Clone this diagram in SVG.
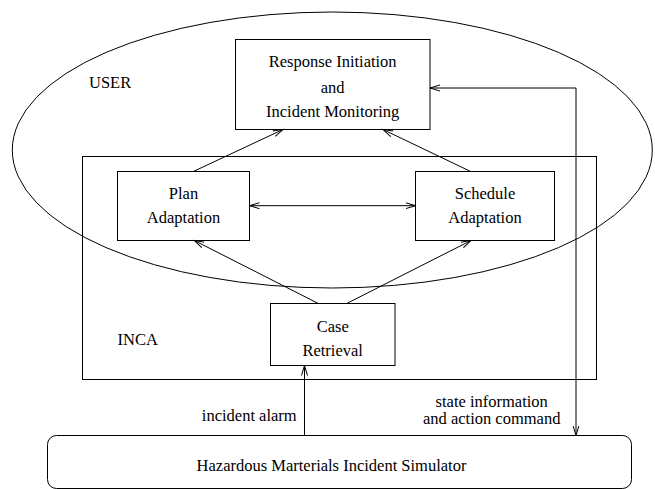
<svg xmlns="http://www.w3.org/2000/svg" width="655" height="489" viewBox="0 0 655 489">
<style>
.box{fill:none;stroke:#000;stroke-width:1}
text{font-family:'Liberation Serif','Times New Roman',Times,serif;font-size:16.5px;fill:#000}
.c{text-anchor:middle}
.ln{fill:none;stroke:#000;stroke-width:1}
</style>
<defs>
<marker id="ah" markerUnits="userSpaceOnUse" markerWidth="12" markerHeight="8" refX="10" refY="3" orient="auto-start-reverse" viewBox="0 0 12 6">
<path d="M0,0 L10,3 L0,6" fill="none" stroke="#000" stroke-width="1"/>
</marker>
</defs>
<rect width="655" height="489" fill="#fff"/>
<g id="user">
<ellipse cx="332.3" cy="150" rx="320" ry="138" class="box"/>
<text x="89" y="88">USER</text>
</g>
<g id="inca">
<rect x="82.5" y="156.5" width="514" height="223" class="box"/>
<text x="117.5" y="345">INCA</text>
</g>
<g id="response">
<rect x="235.5" y="39.5" width="194.5" height="90" class="box"/>
<text x="332.7" y="67.3" class="c">Response Initiation</text>
<text x="332.7" y="93.3" class="c">and</text>
<text x="332.7" y="117.3" class="c">Incident Monitoring</text>
</g>
<g id="plan">
<rect x="117.5" y="171.5" width="132" height="69" class="box"/>
<text x="183.5" y="199.3" class="c">Plan</text>
<text x="183.5" y="223.3" class="c">Adaptation</text>
</g>
<g id="schedule">
<rect x="415.5" y="171.5" width="139" height="69" class="box"/>
<text x="485" y="199.3" class="c">Schedule</text>
<text x="485" y="223.3" class="c">Adaptation</text>
</g>
<g id="case">
<rect x="270.5" y="303.5" width="124.5" height="62" class="box"/>
<text x="332.7" y="331.7" class="c">Case</text>
<text x="332.7" y="356" class="c">Retrieval</text>
</g>
<g id="simulator">
<rect x="47.5" y="435.5" width="584" height="53" rx="9" ry="9" class="box"/>
<text x="331.5" y="470.7" class="c">Hazardous Marterials Incident Simulator</text>
</g>
<g id="connectors">
<line x1="193.3" y1="171.5" x2="283" y2="129.5" class="ln" marker-end="url(#ah)"/>
<line x1="470.7" y1="171.5" x2="383" y2="129.5" class="ln" marker-end="url(#ah)"/>
<line x1="249.5" y1="205.7" x2="415.5" y2="205.7" class="ln" marker-start="url(#ah)" marker-end="url(#ah)"/>
<line x1="318.3" y1="303.5" x2="194.3" y2="240.5" class="ln" marker-end="url(#ah)"/>
<line x1="346.7" y1="303.5" x2="471" y2="240.5" class="ln" marker-end="url(#ah)"/>
<line x1="304.5" y1="435.5" x2="304.5" y2="365.5" class="ln" marker-end="url(#ah)"/>
<polyline points="430,88 576,88 576,435.5" class="ln" marker-start="url(#ah)" marker-end="url(#ah)"/>
<text x="296.7" y="420.7" text-anchor="end">incident alarm</text>
<text x="491.7" y="406.7" class="c">state information</text>
<text x="491.7" y="424.3" class="c">and action command</text>
</g>
</svg>
